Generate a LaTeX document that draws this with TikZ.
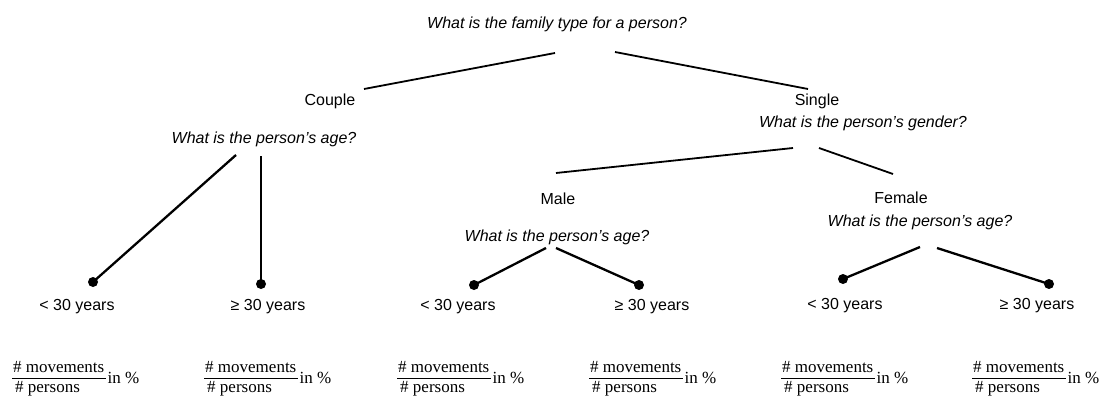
\documentclass[tikz,border=0pt]{standalone}
\usepackage{fontspec}
\setmainfont{Liberation Sans}
\newfontfamily\fracfont{Liberation Serif}
\begin{document}
\begin{tikzpicture}[x=1pt,y=-1pt,
  lbl/.style={inner sep=0pt,font=\fontsize{16}{19}\selectfont},
  qst/.style={lbl,font=\fontsize{16}{19}\selectfont\itshape},
  dot/.style={circle,fill=black,inner sep=0pt,minimum size=10pt},
  edgeA/.style={line width=1.8pt},
  edgeB/.style={line width=2.3pt},
  fractext/.style={inner sep=0pt,font=\fontsize{17}{20}\selectfont\fracfont},
  fracbar/.style={line width=0.8pt}]
\useasboundingbox (0,0) rectangle (1103,396);
% texts
\node[qst] (title) at (557,24) {What is the family type for a person?};
\node[lbl] (couple) at (330,101) {Couple};
\node[qst] (coupleq) at (264,139) {What is the person’s age?};
\node[lbl] (single) at (817,101) {Single};
\node[qst] (singleq) at (863,123) {What is the person’s gender?};
\node[lbl] (male) at (558,199) {Male};
\node[qst] (maleq) at (557,237) {What is the person’s age?};
\node[lbl] (female) at (901,198) {Female};
\node[qst] (femaleq) at (920,222) {What is the person’s age?};
% dots
\node[dot] (d1) at (93,282) {};
\node[dot] (d2) at (261,284) {};
\node[dot] (d3) at (474,285) {};
\node[dot] (d4) at (639,285) {};
\node[dot] (d5) at (843,279) {};
\node[dot] (d6) at (1049,284) {};
% leaf labels
\node[lbl] (l1) at (77,307) {< 30 years};
\node[lbl] (l2) at (268,307) {≥ 30 years};
\node[lbl] (l3) at (458,307) {< 30 years};
\node[lbl] (l4) at (652,307) {≥ 30 years};
\node[lbl] (l5) at (845,306) {< 30 years};
\node[lbl] (l6) at (1037,306) {≥ 30 years};
% connector ends
\coordinate (ta) at (555,53);
\coordinate (tb) at (615,52);
\coordinate (ca) at (364,89);
\coordinate (sa) at (808,89);
\coordinate (cq1) at (236,155);
\coordinate (cq2) at (261,156);
\coordinate (sq1) at (793,148);
\coordinate (sq2) at (819,148);
\coordinate (ma) at (556,173);
\coordinate (fa) at (893,174);
\coordinate (mq1) at (546,248);
\coordinate (mq2) at (556,248);
\coordinate (fq1) at (920,247);
\coordinate (fq2) at (937,248);
% connectors
\draw[edgeA] (ta) -- (ca);
\draw[edgeA] (tb) -- (sa);
\draw[edgeA] (sq1) -- (ma);
\draw[edgeA] (sq2) -- (fa);
\draw[edgeB] (cq1) -- (d1.center);
\draw[edgeB] (cq2) -- (d2.center);
\draw[edgeB] (mq1) -- (d3.center);
\draw[edgeB] (mq2) -- (d4.center);
\draw[edgeB] (fq1) -- (d5.center);
\draw[edgeB] (fq2) -- (d6.center);
% fractions
\foreach \x/\n in {13/f1,205/f2,398/f3,590/f4,782/f5,973/f6}{
  \node[fractext,anchor=base west] (\n n) at (\x,372) {\# movements};
  \node[fractext,anchor=base west] (\n d) at ([xshift=2pt,yshift=-20pt]\n n.base west) {\# persons};
  \draw[fracbar] ([xshift=-1pt,yshift=-6pt]\n n.base west) -- ([xshift=1pt,yshift=-6pt]\n n.base east);
  \node[fractext,anchor=base west] (\n p) at ([xshift=3pt,yshift=-11pt]\n n.base east) {in \%};
}
\end{tikzpicture}
\end{document}
